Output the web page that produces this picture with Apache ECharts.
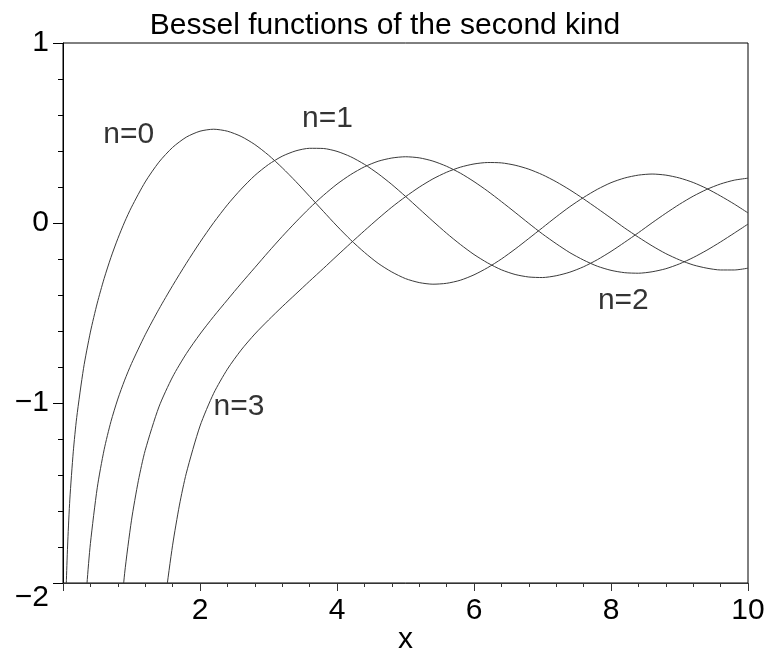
<!DOCTYPE html>
<html>
<head>
<meta charset="utf-8">
<script src="https://cdn.jsdelivr.net/npm/echarts@6/dist/echarts.min.js"></script>
<style>
  html, body { margin: 0; padding: 0; background: #fff; }
  #chart { width: 770px; height: 657px; }
</style>
</head>
<body>
<div id="chart"></div>
<script>
// Bessel functions of the second kind Y_n(x), n = 0..3, sampled values
const x0 = [0.04, 0.05, 0.07, 0.1, 0.15, 0.2, 0.3, 0.4, 0.5, 0.6, 0.7, 0.8, 0.9, 1.0, 1.2, 1.4, 1.6, 1.8];
const y0 = [-2.123, -1.979, -1.767, -1.534, -1.271, -1.081, -0.807, -0.606, -0.445, -0.309, -0.191, -0.087, 0.006, 0.088, 0.228, 0.338, 0.420, 0.477];

const x1 = [0.3, 0.35, 0.4, 0.5, 0.6, 0.7, 0.8, 0.9, 1.0, 1.2, 1.4, 1.6, 1.8];
const y1 = [-2.293, -2.004, -1.781, -1.471, -1.260, -1.103, -0.978, -0.873, -0.781, -0.621, -0.479, -0.348, -0.224];

const x2 = [0.8, 0.9, 1.0, 1.1, 1.2, 1.4, 1.6, 1.8];
const y2 = [-2.359, -1.946, -1.651, -1.432, -1.263, -1.022, -0.855, -0.726];

const x3 = [1.4, 1.5, 1.6, 1.7, 1.8];
const y3 = [-2.442, -2.073, -1.790, -1.567, -1.390];

// shared abscissae from 2 to 10
const xTail = [2.0, 2.2, 2.4, 2.6, 2.8, 3.0, 3.2, 3.4, 3.6, 3.8, 4.0, 4.2, 4.4, 4.6, 4.8, 5.0, 5.2, 5.4, 5.6, 5.8,
               6.0, 6.2, 6.4, 6.6, 6.8, 7.0, 7.2, 7.4, 7.6, 7.8, 8.0, 8.2, 8.4, 8.6, 8.8, 9.0, 9.2, 9.4, 9.6, 9.8, 10.0];
const y0Tail = [0.510, 0.521, 0.510, 0.481, 0.436, 0.377, 0.307, 0.230, 0.148, 0.065, -0.017, -0.094, -0.163, -0.224, -0.272,
                -0.309, -0.331, -0.340, -0.335, -0.318, -0.288, -0.248, -0.200, -0.145, -0.086, -0.026, 0.034, 0.091, 0.142,
                0.187, 0.224, 0.250, 0.266, 0.272, 0.266, 0.250, 0.225, 0.191, 0.150, 0.105, 0.056];
const y1Tail = [-0.107, 0.002, 0.101, 0.188, 0.264, 0.325, 0.371, 0.401, 0.415, 0.414, 0.398, 0.368, 0.326, 0.274, 0.214,
                0.148, 0.079, 0.010, -0.057, -0.119, -0.175, -0.222, -0.260, -0.286, -0.300, -0.303, -0.293, -0.273, -0.243,
                -0.204, -0.158, -0.107, -0.054, 0.001, 0.054, 0.104, 0.149, 0.187, 0.217, 0.238, 0.249];
const y2Tail = [-0.617, -0.519, -0.427, -0.336, -0.248, -0.160, -0.075, 0.006, 0.083, 0.153, 0.216, 0.269, 0.312, 0.343, 0.361,
                0.368, 0.362, 0.344, 0.315, 0.277, 0.230, 0.177, 0.119, 0.059, -0.002, -0.061, -0.115, -0.165, -0.206,
                -0.240, -0.263, -0.276, -0.279, -0.271, -0.254, -0.227, -0.192, -0.151, -0.105, -0.056, -0.006];
const y3Tail = [-1.128, -0.946, -0.812, -0.706, -0.617, -0.539, -0.465, -0.394, -0.323, -0.253, -0.182, -0.112, -0.043, 0.024, 0.088,
                0.146, 0.199, 0.245, 0.282, 0.310, 0.328, 0.336, 0.334, 0.321, 0.299, 0.268, 0.229, 0.184, 0.134,
                0.081, 0.027, -0.028, -0.079, -0.127, -0.170, -0.205, -0.233, -0.251, -0.261, -0.261, -0.251];

// curve annotations
const labelNames = ['n=0', 'n=1', 'n=2', 'n=3'];
const labelX = [0.96, 3.86, 8.18, 2.57];
const labelY = [0.49, 0.58, -0.43, -1.02];

const FONT = '"Liberation Sans", Arial, Helvetica, sans-serif';

function curve(xs, ys, xt, yt) {
  const pts = xs.map((x, i) => [x, ys[i]]);
  return pts.concat(xt.map((x, i) => [x, yt[i]]));
}

const lineStyle = { color: '#3a3a3a', width: 1 };
const curves = [
  curve(x0, y0, xTail, y0Tail),
  curve(x1, y1, xTail, y1Tail),
  curve(x2, y2, xTail, y2Tail),
  curve(x3, y3, xTail, y3Tail)
];

const series = curves.map((d, i) => ({
  name: labelNames[i],
  type: 'line',
  data: d,
  showSymbol: false,
  smooth: 0.25,
  clip: true,
  lineStyle: lineStyle,
  silent: true
}));

series.push({
  type: 'scatter',
  symbolSize: 0,
  silent: true,
  itemStyle: { color: '#000' },
  data: labelNames.map((n, i) => ({ name: n, value: [labelX[i], labelY[i]] })),
  label: {
    show: true,
    position: 'inside',
    formatter: p => p.name,
    fontFamily: FONT,
    fontSize: 30,
    color: '#000',
    textBorderWidth: 0
  }
});

const minus = v => String(v).replace('-', '\u2212');

const chart = echarts.init(document.getElementById('chart'), null, { renderer: 'canvas' });
chart.setOption({
  animation: false,
  backgroundColor: '#fff',
  title: {
    text: 'Bessel functions of the second kind',
    left: 'center',
    top: 6,
    textStyle: { fontFamily: FONT, fontSize: 30, fontWeight: 'normal', color: '#000' }
  },
  grid: {
    left: 63, right: 22, top: 43, bottom: 74,
    containLabel: false,
    outerBoundsMode: 'none',
    show: true, borderColor: '#000', borderWidth: 1
  },
  xAxis: {
    type: 'value',
    min: 0, max: 10, interval: 2,
    name: 'x',
    nameLocation: 'middle',
    nameGap: 42,
    nameMoveOverlap: false,
    nameTextStyle: { fontFamily: FONT, fontSize: 30, color: '#000' },
    axisLine: { show: true, onZero: false, lineStyle: { color: '#333', width: 1 } },
    axisTick: { show: true, inside: false, length: 8, lineStyle: { color: '#333' } },
    minorTick: { show: true, splitNumber: 5, length: 4, lineStyle: { color: '#333' } },
    splitLine: { show: false },
    axisLabel: {
      fontFamily: FONT, fontSize: 30, color: '#000', margin: 13,
      formatter: v => (v === 0 ? '' : minus(v))
    }
  },
  yAxis: {
    type: 'value',
    min: -2, max: 1, interval: 1,
    axisLine: { show: true, onZero: false, lineStyle: { color: '#000', width: 1 } },
    axisTick: { show: true, inside: false, length: 10, lineStyle: { color: '#000' } },
    minorTick: { show: true, splitNumber: 5, length: 5, lineStyle: { color: '#000' } },
    splitLine: { show: false },
    axisLabel: {
      fontFamily: FONT, fontSize: 30, color: '#000', margin: 14,
      // the lowest label sits a little below its tick, clear of the x axis
      formatter: v => (v === -2 ? '{low|' + minus(v) + '}' : minus(v)),
      rich: {
        low: { fontFamily: FONT, fontSize: 30, color: '#000', padding: [30, 0, 0, 0] }
      }
    }
  },
  series: series
});
</script>
</body>
</html>
